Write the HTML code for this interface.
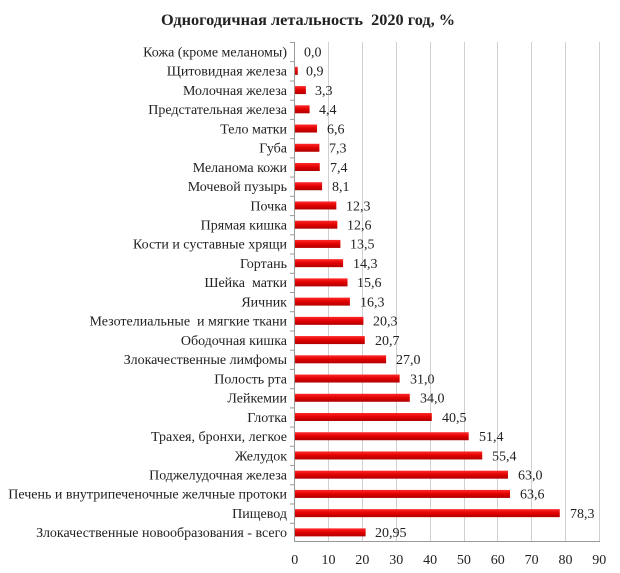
<!DOCTYPE html>
<html><head><meta charset="utf-8"><style>
body{margin:0;background:#fff}
svg{display:block}
text{font-family:"Liberation Serif","Noto Serif CJK SC",serif;fill:#222;font-size:14px;white-space:pre}
.l{text-anchor:end}
</style></head><body>
<svg width="620" height="573" xmlns="http://www.w3.org/2000/svg">
<defs><linearGradient id="g" x1="0" y1="0" x2="0" y2="1">
<stop offset="0" stop-color="#ff2a2a"/><stop offset="0.5" stop-color="#e00000"/><stop offset="1" stop-color="#b00000"/></linearGradient></defs>
<text x="308" y="25" text-anchor="middle" style="font-size:16.3px;font-weight:bold">Одногодичная летальность  2020 год, %</text>
<g stroke="#d0d0d0" stroke-width="1">
<line x1="328.5" y1="42" x2="328.5" y2="542"/><line x1="362.5" y1="42" x2="362.5" y2="542"/>
<line x1="396.5" y1="42" x2="396.5" y2="542"/><line x1="430.5" y1="42" x2="430.5" y2="542"/>
<line x1="464.5" y1="42" x2="464.5" y2="542"/><line x1="497.5" y1="42" x2="497.5" y2="542"/>
<line x1="531.5" y1="42" x2="531.5" y2="542"/><line x1="565.5" y1="42" x2="565.5" y2="542"/>
<line x1="599.5" y1="42" x2="599.5" y2="542"/>
</g>
<g fill="url(#g)">
<rect x="294.7" y="66.85" width="3.05" height="8"/>
<rect x="294.7" y="86.08" width="11.17" height="8"/>
<rect x="294.7" y="105.31" width="14.89" height="8"/>
<rect x="294.7" y="124.54" width="22.34" height="8"/>
<rect x="294.7" y="143.77" width="24.71" height="8"/>
<rect x="294.7" y="163.00" width="25.05" height="8"/>
<rect x="294.7" y="182.23" width="27.42" height="8"/>
<rect x="294.7" y="201.46" width="41.64" height="8"/>
<rect x="294.7" y="220.69" width="42.65" height="8"/>
<rect x="294.7" y="239.92" width="45.70" height="8"/>
<rect x="294.7" y="259.15" width="48.41" height="8"/>
<rect x="294.7" y="278.38" width="52.81" height="8"/>
<rect x="294.7" y="297.62" width="55.18" height="8"/>
<rect x="294.7" y="316.85" width="68.72" height="8"/>
<rect x="294.7" y="336.08" width="70.07" height="8"/>
<rect x="294.7" y="355.31" width="91.40" height="8"/>
<rect x="294.7" y="374.54" width="104.94" height="8"/>
<rect x="294.7" y="393.77" width="115.09" height="8"/>
<rect x="294.7" y="413.00" width="137.09" height="8"/>
<rect x="294.7" y="432.23" width="173.99" height="8"/>
<rect x="294.7" y="451.46" width="187.53" height="8"/>
<rect x="294.7" y="470.69" width="213.26" height="8"/>
<rect x="294.7" y="489.92" width="215.29" height="8"/>
<rect x="294.7" y="509.15" width="265.05" height="8"/>
<rect x="294.7" y="528.38" width="70.92" height="8"/>
</g>
<g>
<text class="l" x="287" y="56.4">Кожа (кроме меланомы)</text>
<text class="l" x="287" y="75.6">Щитовидная железа</text>
<text class="l" x="287" y="94.9">Молочная железа</text>
<text class="l" x="287" y="114.1">Предстательная железа</text>
<text class="l" x="287" y="133.3">Тело матки</text>
<text class="l" x="287" y="152.6">Губа</text>
<text class="l" x="287" y="171.8">Меланома кожи</text>
<text class="l" x="287" y="191.0">Мочевой пузырь</text>
<text class="l" x="287" y="210.3">Почка</text>
<text class="l" x="287" y="229.5">Прямая кишка</text>
<text class="l" x="287" y="248.7">Кости и суставные хрящи</text>
<text class="l" x="287" y="268.0">Гортань</text>
<text class="l" x="287" y="287.2">Шейка  матки</text>
<text class="l" x="287" y="306.4">Яичник</text>
<text class="l" x="287" y="325.7">Мезотелиальные  и мягкие ткани</text>
<text class="l" x="287" y="344.9">Ободочная кишка</text>
<text class="l" x="287" y="364.1">Злокачественные лимфомы</text>
<text class="l" x="287" y="383.3">Полость рта</text>
<text class="l" x="287" y="402.6">Лейкемии</text>
<text class="l" x="287" y="421.8">Глотка</text>
<text class="l" x="287" y="441.0">Трахея, бронхи, легкое</text>
<text class="l" x="287" y="460.3">Желудок</text>
<text class="l" x="287" y="479.5">Поджелудочная железа</text>
<text class="l" x="287" y="498.7">Печень и внутрипеченочные желчные протоки</text>
<text class="l" x="287" y="518.0">Пищевод</text>
<text class="l" x="287" y="537.2">Злокачественные новообразования - всего</text>
</g>
<g>
<text x="304" y="56.4">0,0</text>
<text x="306" y="75.6">0,9</text>
<text x="315" y="94.9">3,3</text>
<text x="319" y="114.1">4,4</text>
<text x="327" y="133.3">6,6</text>
<text x="329" y="152.6">7,3</text>
<text x="330" y="171.8">7,4</text>
<text x="332" y="191.0">8,1</text>
<text x="346" y="210.3">12,3</text>
<text x="347" y="229.5">12,6</text>
<text x="350" y="248.7">13,5</text>
<text x="353" y="268.0">14,3</text>
<text x="357" y="287.2">15,6</text>
<text x="360" y="306.4">16,3</text>
<text x="373" y="325.7">20,3</text>
<text x="375" y="344.9">20,7</text>
<text x="396" y="364.1">27,0</text>
<text x="410" y="383.3">31,0</text>
<text x="420" y="402.6">34,0</text>
<text x="442" y="421.8">40,5</text>
<text x="479" y="441.0">51,4</text>
<text x="492" y="460.3">55,4</text>
<text x="518" y="479.5">63,0</text>
<text x="520" y="498.7">63,6</text>
<text x="570" y="518.0">78,3</text>
<text x="375" y="537.2">20,95</text>
</g>
<g stroke="#999" stroke-width="1">
<line x1="294.5" y1="42" x2="294.5" y2="542"/><line x1="294" y1="541.5" x2="600" y2="541.5"/>
<line x1="290" y1="42.5" x2="294" y2="42.5"/><line x1="290" y1="61.7" x2="294" y2="61.7"/>
<line x1="290" y1="81" x2="294" y2="81"/><line x1="290" y1="100.2" x2="294" y2="100.2"/>
<line x1="290" y1="119.4" x2="294" y2="119.4"/><line x1="290" y1="138.7" x2="294" y2="138.7"/>
<line x1="290" y1="157.9" x2="294" y2="157.9"/><line x1="290" y1="177.1" x2="294" y2="177.1"/>
<line x1="290" y1="196.3" x2="294" y2="196.3"/><line x1="290" y1="215.6" x2="294" y2="215.6"/>
<line x1="290" y1="234.8" x2="294" y2="234.8"/><line x1="290" y1="254" x2="294" y2="254"/>
<line x1="290" y1="273.3" x2="294" y2="273.3"/><line x1="290" y1="292.5" x2="294" y2="292.5"/>
<line x1="290" y1="311.7" x2="294" y2="311.7"/><line x1="290" y1="331" x2="294" y2="331"/>
<line x1="290" y1="350.2" x2="294" y2="350.2"/><line x1="290" y1="369.4" x2="294" y2="369.4"/>
<line x1="290" y1="388.7" x2="294" y2="388.7"/><line x1="290" y1="407.9" x2="294" y2="407.9"/>
<line x1="290" y1="427.1" x2="294" y2="427.1"/><line x1="290" y1="446.3" x2="294" y2="446.3"/>
<line x1="290" y1="465.6" x2="294" y2="465.6"/><line x1="290" y1="484.8" x2="294" y2="484.8"/>
<line x1="290" y1="504" x2="294" y2="504"/><line x1="290" y1="523.3" x2="294" y2="523.3"/>
</g>
<g>
<text x="294.7" y="564" text-anchor="middle">0</text>
<text x="328.5" y="564" text-anchor="middle">10</text>
<text x="362.4" y="564" text-anchor="middle">20</text>
<text x="396.2" y="564" text-anchor="middle">30</text>
<text x="430.1" y="564" text-anchor="middle">40</text>
<text x="463.9" y="564" text-anchor="middle">50</text>
<text x="497.8" y="564" text-anchor="middle">60</text>
<text x="531.6" y="564" text-anchor="middle">70</text>
<text x="565.5" y="564" text-anchor="middle">80</text>
<text x="599.3" y="564" text-anchor="middle">90</text>
</g>
</svg>
</body></html>
